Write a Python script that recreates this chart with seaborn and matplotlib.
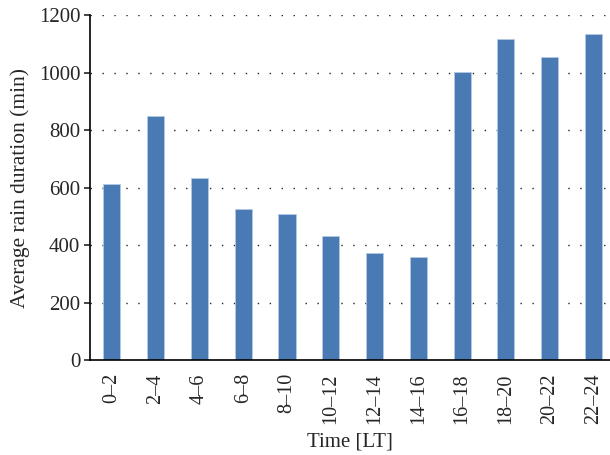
import matplotlib
matplotlib.use("Agg")
import matplotlib.pyplot as plt
import seaborn as sns
import pandas as pd

# Data
time_bins = ["0\u20132", "2\u20134", "4\u20136", "6\u20138", "8\u201310", "10\u201312",
             "12\u201314", "14\u201316", "16\u201318", "18\u201320", "20\u201322", "22\u201324"]
rain_duration = [612, 849, 632, 525, 507, 431, 372, 357, 1001, 1118, 1054, 1133]
y_ticks = [0, 200, 400, 600, 800, 1000, 1200]

df = pd.DataFrame({"time": time_bins, "duration": rain_duration})

sns.set_style("white")
plt.rcParams["font.family"] = ["Liberation Serif", "DejaVu Serif"]

fig = plt.figure(figsize=(6.1, 4.55), dpi=100)
ax = fig.add_axes([0.1475, 0.2088, 0.852, 0.758])

sns.barplot(data=df, x="time", y="duration", color="#4a7ab4", saturation=1,
            width=0.39, edgecolor="#b4c8e2", linewidth=0.6, ax=ax)

ax.set_ylim(0, 1200)
ax.set_xlim(-0.5, 11.37)
ax.set_yticks(y_ticks)
# sparse dotted grid, one dot about every 12 px
ax.yaxis.grid(True, color="#222222", linestyle=(0, (1, 7.6)), linewidth=1.0)
ax.set_axisbelow(True)

for side in ["top", "right"]:
    ax.spines[side].set_visible(False)
for side in ["left", "bottom"]:
    ax.spines[side].set_color("black")
    ax.spines[side].set_linewidth(1.2)

ax.tick_params(axis="y", which="both", left=True, length=4, width=1.2,
               direction="out", labelsize=15, pad=3)
ax.tick_params(axis="x", bottom=False, labelsize=14.5, pad=6)
plt.setp(ax.get_xticklabels(), rotation=90)

ax.set_xlabel("Time [LT]", fontsize=15, labelpad=6)
ax.set_ylabel("Average rain duration (min)", fontsize=15.5, labelpad=6)

fig.savefig("out.png", dpi=100)
